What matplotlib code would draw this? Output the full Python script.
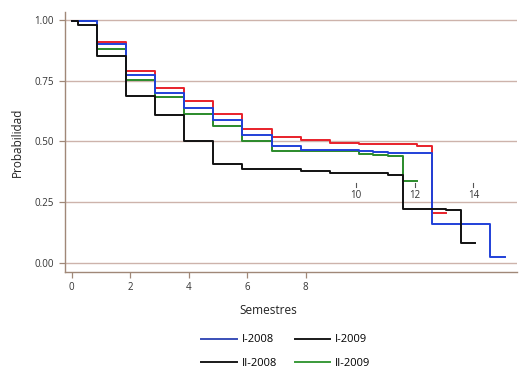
import matplotlib
matplotlib.use("Agg")
import matplotlib.pyplot as plt
from matplotlib.lines import Line2D

plt.rcParams['font.family'] = ['Open Sans', 'DejaVu Sans']

# Data (Kaplan-Meier style step curves)
red_t = [0, 0.85, 1.85, 2.85, 3.84, 4.84, 5.83, 6.84, 7.83, 8.83, 9.83, 11.79, 12.31, 12.78]
red_v = [0.996, 0.909, 0.790, 0.718, 0.665, 0.611, 0.552, 0.519, 0.506, 0.492, 0.488, 0.482, 0.203, 0.203]

blue_t = [0, 0.85, 1.85, 2.85, 3.84, 4.84, 5.83, 6.84, 7.83, 9.83, 10.31, 10.82, 12.31, 14.3, 14.8]
blue_v = [0.996, 0.900, 0.772, 0.699, 0.639, 0.587, 0.525, 0.481, 0.464, 0.460, 0.457, 0.452, 0.159, 0.025, 0.025]

green_t = [0, 0.85, 1.85, 2.85, 3.84, 4.84, 5.83, 6.84, 9.83, 10.31, 10.82, 11.32, 11.79]
green_v = [0.996, 0.882, 0.752, 0.683, 0.614, 0.565, 0.501, 0.461, 0.448, 0.444, 0.440, 0.337, 0.337]

black_t = [0, 0.22, 0.85, 1.85, 2.85, 3.84, 4.84, 5.83, 7.83, 8.83, 10.82, 11.32, 12.78, 13.3, 13.79]
black_v = [0.996, 0.979, 0.853, 0.686, 0.609, 0.503, 0.405, 0.385, 0.377, 0.370, 0.363, 0.222, 0.217, 0.082, 0.082]

yticks = [0.0, 0.25, 0.5, 0.75, 1.0]
xticks_main = [0, 2, 4, 6, 8]
inner_labels = ['10', '12', '14']
inner_label_x = [9.72, 11.74, 13.73]

legend_labels = ['I-2008', 'II-2008', 'I-2009', 'II-2009']
legend_colors = ['#3a4fb8', '#1a1a1a', '#1a1a1a', '#3a9a3a']

fig = plt.figure(figsize=(5.29, 3.78), dpi=100)
ax = fig.add_axes([64.5/529, 1-271.7/378, (517-64.5)/529, (271.7-12)/378])

grid_color = '#cdb3ab'
for y in yticks:
    ax.axhline(y, color=grid_color, lw=1.0, zorder=0)

lw = 1.4
ax.step(green_t, green_v, where='post', color='#2a8a2a', lw=lw, zorder=3)
ax.step(red_t, red_v, where='post', color='#e8202a', lw=lw, zorder=2)
ax.step(blue_t, blue_v, where='post', color='#2040d8', lw=lw, zorder=3)
ax.step(black_t, black_v, where='post', color='#111111', lw=lw, zorder=4)

ax.set_xlim(-0.246, 15.22)
ax.set_ylim(-0.037, 1.033)

spine_color = '#a08878'
for s in ['top', 'right']:
    ax.spines[s].set_visible(False)
for s in ['left', 'bottom']:
    ax.spines[s].set_color(spine_color)
    ax.spines[s].set_linewidth(1.0)

ax.set_yticks(yticks)
ax.set_yticklabels([f'{v:.2f}' for v in yticks])
ax.set_xticks(xticks_main)
ax.tick_params(axis='both', colors=spine_color, labelcolor='#333333', labelsize=7, length=4, width=0.9)

for lbl, xv in zip(inner_labels, inner_label_x):
    ax.plot([xv, xv], [0.312, 0.330], color='#555555', lw=0.8, zorder=5)
    ax.text(xv, 0.279, lbl, ha='center', va='center', fontsize=7, color='#333333')

ax.set_ylabel('Probabilidad', fontsize=8.5, color='#222222')
ax.yaxis.set_label_coords(-0.09, 0.5)
ax.set_xlabel('Semestres', fontsize=8.5, color='#222222')
ax.xaxis.set_label_coords(0.45, -0.125)

handles = [Line2D([0], [0], color=c, lw=1.4) for c in legend_colors]
fig.legend(handles, legend_labels, ncol=2, frameon=False, loc='center',
           bbox_to_anchor=(0.54, 0.07), fontsize=8, handlelength=3.2,
           handletextpad=0.4, columnspacing=1.6, labelspacing=1.1)

fig.savefig('out.png', dpi=100)
